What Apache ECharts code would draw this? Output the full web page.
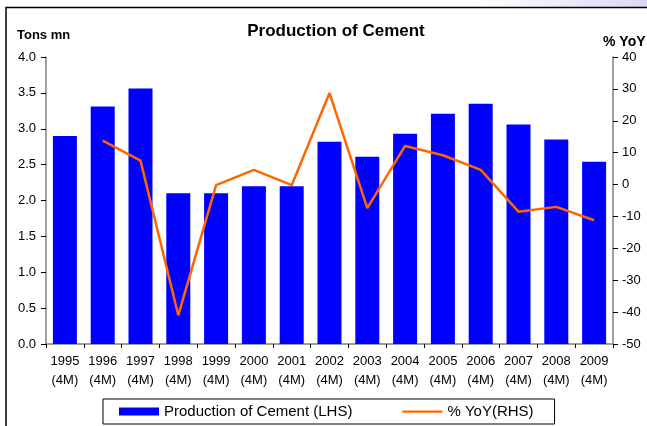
<!DOCTYPE html>
<html>
<head>
<meta charset="utf-8">
<script src="https://cdn.jsdelivr.net/npm/echarts@6/dist/echarts.min.js"></script>
<style>
  html, body { margin: 0; padding: 0; background: #fff; }
  #chart { width: 647px; height: 426px; }
</style>
</head>
<body>
<div id="chart"></div>
<script>
// years on the x axis, each one is Jan-Apr (4M)
const years = ["1995", "1996", "1997", "1998", "1999", "2000", "2001", "2002",
  "2003", "2004", "2005", "2006", "2007", "2008", "2009"];
// production, tons mn (LHS)
const production = [2.90, 3.31, 3.56, 2.10, 2.10, 2.20, 2.20, 2.82,
  2.61, 2.93, 3.21, 3.35, 3.06, 2.85, 2.54];
// % YoY (RHS), no value for the first year
const yoy = [null, 13.8, 7.5, -41.0, -0.2, 4.6, -0.2, 28.7,
  -7.4, 12.1, 9.2, 4.6, -8.5, -7.0, -11.2];

const font = "Liberation Sans, Arial, sans-serif";
const axisGrey = "#808080";

const myChart = echarts.init(document.getElementById("chart"));
const option = {
  backgroundColor: "#fff",
  animation: false,
  title: [
    {
      text: "Production of Cement",
      left: 331,
      top: 18,
      textAlign: "center",
      textStyle: { fontFamily: font, fontSize: 17, fontWeight: "bold", color: "#000" },
    },
    {
      text: "Tons mn",
      left: 12,
      top: 24,
      textStyle: { fontFamily: font, fontSize: 13, fontWeight: "bold", color: "#000" },
    },
    {
      text: "% YoY",
      left: 598,
      top: 30,
      textStyle: { fontFamily: font, fontSize: 14, fontWeight: "bold", color: "#000" },
    },
  ],
  graphic: [
    {
      type: "rect",
      shape: { x: 470, y: 0, width: 180, height: 7 },
      style: {
        fill: new echarts.graphic.LinearGradient(0, 0, 1, 0, [
          { offset: 0, color: "#ffffff" },
          { offset: 1, color: "#d8d8f6" },
        ]),
      },
      silent: true,
    },
    {
      type: "rect",
      shape: { x: 6, y: 7.5, width: 700, height: 500 },
      style: { fill: "none", stroke: "#000", lineWidth: 1.5 },
      silent: true,
    },
  ],
  legend: {
    left: 103,
    top: 399,
    padding: [5, 21, 5, 16],
    itemGap: 50,
    itemWidth: 40,
    itemHeight: 8,
    borderColor: "#000",
    borderWidth: 1,
    textStyle: { fontFamily: font, fontSize: 15, color: "#000" },
    data: [
      { name: "Production of Cement (LHS)", icon: "rect" },
      {
        name: "% YoY(RHS)",
        icon: "path://M0,0 L0,0 M0,3 L40,3 L40,5.2 L0,5.2 Z M0,8 L0,8",
        itemStyle: { color: "#ff6600" },
      },
    ],
  },
  grid: {
    left: 46,
    right: 34,
    top: 57,
    bottom: 82,
  },
  xAxis: {
    type: "category",
    data: years,
    axisLine: { lineStyle: { color: axisGrey, width: 1.5 } },
    axisTick: { show: true, length: 4, lineStyle: { color: "#000" } },
    axisLabel: {
      fontFamily: font,
      fontSize: 13,
      color: "#000",
      lineHeight: 19,
      margin: 8,
      interval: 0,
      formatter: (v) => v + "\n(4M)",
    },
  },
  yAxis: [
    {
      type: "value",
      min: 0,
      max: 4,
      interval: 0.5,
      splitLine: { show: false },
      axisLine: { show: true, lineStyle: { color: axisGrey, width: 1.5 } },
      axisTick: { show: true, length: 5, lineStyle: { color: "#000" } },
      axisLabel: {
        fontFamily: font,
        fontSize: 13,
        color: "#000",
        margin: 10,
        formatter: (v) => v.toFixed(1),
      },
    },
    {
      type: "value",
      min: -50,
      max: 40,
      interval: 10,
      position: "right",
      splitLine: { show: false },
      axisLine: { show: true, lineStyle: { color: axisGrey, width: 1.5 } },
      axisTick: { show: true, length: 5, lineStyle: { color: "#000" } },
      axisLabel: {
        fontFamily: font,
        fontSize: 13,
        color: "#000",
        margin: 9,
      },
    },
  ],
  series: [
    {
      name: "Production of Cement (LHS)",
      type: "bar",
      data: production,
      barWidth: 24,
      itemStyle: { color: "#0000ff" },
    },
    {
      name: "% YoY(RHS)",
      type: "line",
      yAxisIndex: 1,
      data: yoy,
      symbol: "none",
      lineStyle: { color: "#ff6600", width: 2.5 },
      itemStyle: { color: "#ff6600" },
    },
  ],
};
myChart.setOption(option);
</script>
</body>
</html>
